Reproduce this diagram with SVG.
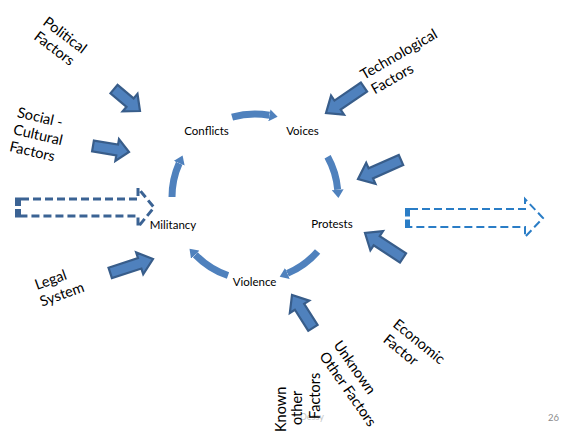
<svg xmlns="http://www.w3.org/2000/svg" width="562" height="433" viewBox="0 0 562 433">
<style>
  .bg{fill:#ffffff}
  .lbl{font-family:Lato,"Open Sans","Liberation Sans",sans-serif;font-size:14.5px;fill:#000}
  .node{font-family:Lato,"Open Sans","Liberation Sans",sans-serif;font-size:11.5px;fill:#000;text-anchor:middle}
  .blk{fill:#4F81BD;stroke:#385D8A;stroke-width:2.2;stroke-linejoin:miter}
  .arc{fill:none;stroke:#4F81BD;stroke-width:7;marker-end:url(#ah)}
  .dashL{fill:none;stroke:#3B6394;stroke-width:3;stroke-dasharray:8 4}
  .dashR{fill:none;stroke:#2A7DC6;stroke-width:2;stroke-dasharray:8 4}
  .pg{font-family:Lato,"Liberation Sans",sans-serif;font-size:9.5px;fill:#8c8c8c;text-anchor:end}
  .wm{font-family:Lato,"Liberation Sans",sans-serif;font-size:9px;fill:#c4c4c4}
</style>
<defs>
  <marker id="ah" viewBox="0 0 10 10" refX="0" refY="5" markerWidth="1.7" markerHeight="1.7" orient="auto" markerUnits="strokeWidth">
    <path d="M0,0 L7,5 L0,10 Z" fill="#4F81BD"/>
  </marker>
</defs>
<rect class="bg" x="0" y="0" width="562" height="433"/>

<g id="connectors">
  <path class="arc" d="M232.1,117.2 A83,83 0 0 1 269.4,115.3"/>
  <path class="arc" d="M327.6,156.8 A83,83 0 0 1 337.7,189.8"/>
  <path class="arc" d="M317.6,251.5 A83,83 0 0 1 287.4,273.4"/>
  <path class="arc" d="M228.0,275.5 A83,83 0 0 1 195.3,254.7"/>
  <path class="arc" d="M172,197 A83,83 0 0 1 179.2,163.2"/>

  <path class="blk" transform="translate(140,111) rotate(40.2)" d="M-34,-5.5 L-13,-5.5 L-13,-11.5 L0,0 L-13,11.5 L-13,5.5 L-34,5.5 Z"/>
  <path class="blk" transform="translate(129,152) rotate(9.5)" d="M-36.5,-5.5 L-12,-5.5 L-12,-11 L0,0 L-12,11 L-12,5.5 L-36.5,5.5 Z"/>
  <path class="blk" transform="translate(326,113) rotate(145.6)" d="M-46,-5.5 L-14,-5.5 L-14,-11.5 L0,0 L-14,11.5 L-14,5.5 L-46,5.5 Z"/>
  <path class="blk" transform="translate(358,179) rotate(156.2)" d="M-47,-5.5 L-14,-5.5 L-14,-11.5 L0,0 L-14,11.5 L-14,5.5 L-47,5.5 Z"/>
  <path class="blk" transform="translate(365,233) rotate(213.3)" d="M-45.5,-5.5 L-14,-5.5 L-14,-11.5 L0,0 L-14,11.5 L-14,5.5 L-45.5,5.5 Z"/>
  <path class="blk" transform="translate(153,259) rotate(-18)" d="M-45,-5.5 L-14,-5.5 L-14,-11.5 L0,0 L-14,11.5 L-14,5.5 L-45,5.5 Z"/>
  <path class="blk" transform="translate(292,295) rotate(-122.5)" d="M-39,-5.5 L-14,-5.5 L-14,-11.5 L0,0 L-14,11.5 L-14,5.5 L-39,5.5 Z"/>

  <path class="dashL" d="M21,199 L138,199 L138,188 L154,207.5 L138,227 L138,216 L21,216"/>
  <rect x="15" y="197.5" width="6" height="8.5" fill="#3B6394"/>
  <rect x="15" y="209" width="6" height="8.5" fill="#3B6394"/>
  <path class="dashR" d="M410,209 L525,209 L525,199 L543,218 L525,237 L525,227 L410,227"/>
  <rect x="405" y="208" width="5" height="8.5" fill="#2A7DC6"/>
  <rect x="405" y="219.5" width="5" height="8.5" fill="#2A7DC6"/>
</g>

<g id="node-conflicts"><text class="node" x="206.5" y="134.5">Conflicts</text></g>
<g id="node-voices"><text class="node" x="302.5" y="134.5">Voices</text></g>
<g id="node-protests"><text class="node" x="332" y="228">Protests</text></g>
<g id="node-violence"><text class="node" x="254.5" y="285.5">Violence</text></g>
<g id="node-militancy"><text class="node" x="173" y="229">Militancy</text></g>

<g id="factor-political" transform="translate(42,24) rotate(37)">
  <text class="lbl" x="0" y="0">Political</text>
  <text class="lbl" x="1.5" y="17">Factors</text>
</g>
<g id="factor-social" transform="translate(16.5,117) rotate(13)">
  <text class="lbl" x="0" y="0">Social -</text>
  <text class="lbl" x="0" y="17.5">Cultural</text>
  <text class="lbl" x="0" y="35">Factors</text>
</g>
<g id="factor-tech" transform="translate(364,80) rotate(-30)">
  <text class="lbl" x="0" y="0">Technological</text>
  <text class="lbl" x="2" y="18">Factors</text>
</g>
<g id="factor-legal" transform="translate(37,290) rotate(-20)">
  <text class="lbl" x="0" y="0">Legal</text>
  <text class="lbl" x="-1" y="17.5">System</text>
</g>
<g id="factor-economic" transform="translate(392,326) rotate(39)">
  <text class="lbl" x="0" y="0">Economic</text>
  <text class="lbl" x="2" y="18">Factor</text>
</g>
<g id="factor-unknown" transform="translate(333,345) rotate(55)">
  <text class="lbl" x="0" y="0">Unknown</text>
  <text class="lbl" x="1" y="18">Other Factors</text>
</g>
<g id="factor-known">
  <text class="wm" x="300" y="420">Dessy</text>
  <text class="lbl" transform="translate(286,432) rotate(-90)">Known</text>
  <text class="lbl" transform="translate(302,425) rotate(-90)">other</text>
  <text class="lbl" transform="translate(320,419) rotate(-90)">Factors</text>
</g>
<text class="pg" x="559" y="421">26</text>
</svg>
